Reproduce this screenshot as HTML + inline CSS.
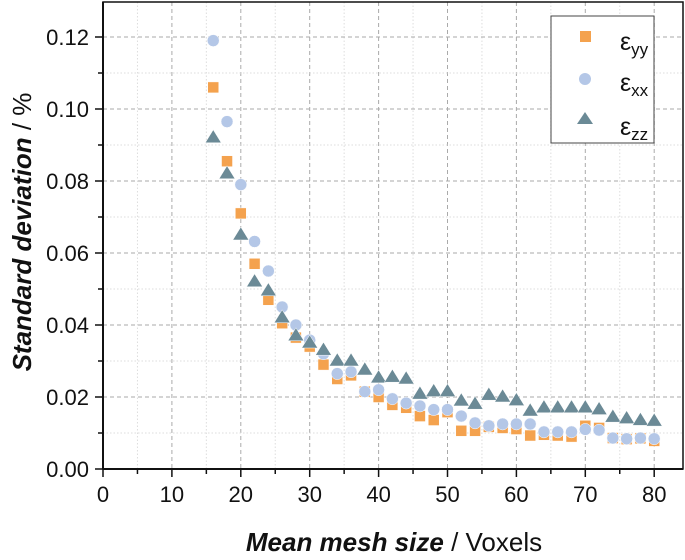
<!DOCTYPE html>
<html><head><meta charset="utf-8"><style>
body{margin:0;background:#fff;}
svg text{font-family:"Liberation Sans",Arial,sans-serif;}
</style></head><body>
<svg width="685" height="555" viewBox="0 0 685 555" xmlns="http://www.w3.org/2000/svg">
<g id="grid"></g>
<g id="marks"></g>
<g id="axes"></g>
<g>
<rect x="551" y="16" width="103" height="127" fill="#fff" stroke="#444" stroke-width="1"/>
<rect x="580" y="31" width="11" height="11" fill="#F4A24E"/>
<text x="620" y="50" font-size="25" fill="#111">ε<tspan font-size="17" dy="5">yy</tspan></text>
<circle cx="585" cy="79" r="6" fill="#B4C7E7"/>
<text x="620" y="91" font-size="25" fill="#111">ε<tspan font-size="17" dy="5">xx</tspan></text>
<polygon points="577,124 593,124 585,112" fill="#6B8A96"/>
<text x="620" y="135" font-size="25" fill="#111">ε<tspan font-size="17" dy="5">zz</tspan></text>
</g>
<text x="394" y="551" font-size="26" text-anchor="middle" fill="#111"><tspan font-weight="bold" font-style="italic">Mean mesh size</tspan> / Voxels</text>
<text transform="translate(22,232) rotate(-90)" font-size="26" text-anchor="middle" dominant-baseline="central" fill="#111"><tspan font-weight="bold" font-style="italic">Standard deviation</tspan> / %</text>
</svg>
<script>
const xs=[16,18,20,22,24,26,28,30,32,34,36,38,40,42,44,46,48,50,52,54,56,58,60,62,64,66,68,70,72,74,76,78,80];
const eyy=[0.106,0.0855,0.071,0.057,0.047,0.0405,0.0365,0.034,0.029,0.025,0.026,0.0215,0.02,0.0178,0.017,0.0147,0.0136,0.0158,0.0106,0.0106,0.0117,0.0114,0.0111,0.0093,0.0095,0.0093,0.009,0.012,0.0114,0.0086,0.0083,0.0085,0.0078];
const exx=[0.119,0.0965,0.079,0.0632,0.055,0.045,0.040,0.0358,0.032,0.0265,0.027,0.0215,0.022,0.0195,0.0183,0.0175,0.0165,0.0165,0.0147,0.0128,0.012,0.0125,0.0125,0.0125,0.0103,0.0103,0.0103,0.011,0.0108,0.0086,0.0084,0.0086,0.0084];
const ezz=[0.092,0.082,0.065,0.052,0.0495,0.042,0.037,0.035,0.033,0.030,0.030,0.0275,0.0253,0.0255,0.025,0.0208,0.0215,0.0215,0.0189,0.018,0.0205,0.020,0.019,0.0161,0.017,0.017,0.017,0.017,0.0165,0.0144,0.014,0.0135,0.0133];
const xTicks=[0,10,20,30,40,50,60,70,80];
const yTicks=[0,0.02,0.04,0.06,0.08,0.10,0.12];
const NS="http://www.w3.org/2000/svg";
const X0=103,XS=6.89,Y0=469,YS=3600,R=683,T=2;
const sx=v=>X0+v*XS, sy=v=>Y0-v*YS;
function mk(t,a,p){const e=document.createElementNS(NS,t);for(const k in a)e.setAttribute(k,a[k]);p.appendChild(e);return e;}
const grid=document.getElementById('grid'),axes=document.getElementById('axes'),marks=document.getElementById('marks');
for(let v=5;v<=80;v+=5){const l=mk('line',{x1:sx(v),x2:sx(v),y1:T,y2:Y0,stroke:v%10?'#ddd':'#aaa','stroke-dasharray':v%10?'1.5,2':'4,3','stroke-width':1},grid);

}
for(let i=1;i<=12;i++){const v=i*0.01;const l=mk('line',{x1:X0,x2:R,y1:sy(v),y2:sy(v),stroke:i%2?'#ddd':'#aaa','stroke-dasharray':i%2?'1.5,2':'4,3','stroke-width':1},grid);

}
xs.forEach((x,i)=>{
const s=mk('rect',{x:sx(x)-5.5,y:sy(eyy[i])-5.5,width:11,height:11,fill:'#F4A24E',stroke:'#fff','stroke-width':0.5},marks);


const c=mk('circle',{cx:sx(x),cy:sy(exx[i]),r:6,fill:'#B4C7E7',stroke:'#fff','stroke-width':0.5},marks);


const cx=sx(x),cy=sy(ezz[i]);
const t=mk('polygon',{points:`${cx-8},${cy+5} ${cx+8},${cy+5} ${cx},${cy-8}`,fill:'#6B8A96',stroke:'#fff','stroke-width':0.5},marks);


});
const fr=mk('rect',{x:X0,y:T,width:R-X0,height:Y0-T,fill:'none',stroke:'#111','stroke-width':1.5},axes);


mk('line',{x1:X0,x2:X0,y1:T,y2:Y0,stroke:'#111','stroke-width':2},axes);
mk('line',{x1:X0,x2:R,y1:Y0,y2:Y0,stroke:'#111','stroke-width':2},axes);
for(let v=0;v<=80;v+=5){mk('line',{x1:sx(v),x2:sx(v),y1:Y0,y2:Y0+(v%10?5:8),stroke:'#111','stroke-width':1.5},axes);}
for(let i=0;i<=12;i++){mk('line',{x1:X0,x2:X0-(i%2?5:8),y1:sy(i*0.01),y2:sy(i*0.01),stroke:'#111','stroke-width':1.5},axes);}
xTicks.forEach(v=>{const t=mk('text',{x:sx(v),y:Y0+33,'font-size':22,'text-anchor':'middle',fill:'#111'},axes);t.textContent=v;

});
yTicks.forEach(v=>{const t=mk('text',{x:X0-14,y:sy(v)+8,'font-size':22,'text-anchor':'end',fill:'#111'},axes);t.textContent=v.toFixed(2);

});
</script>
</body></html>
